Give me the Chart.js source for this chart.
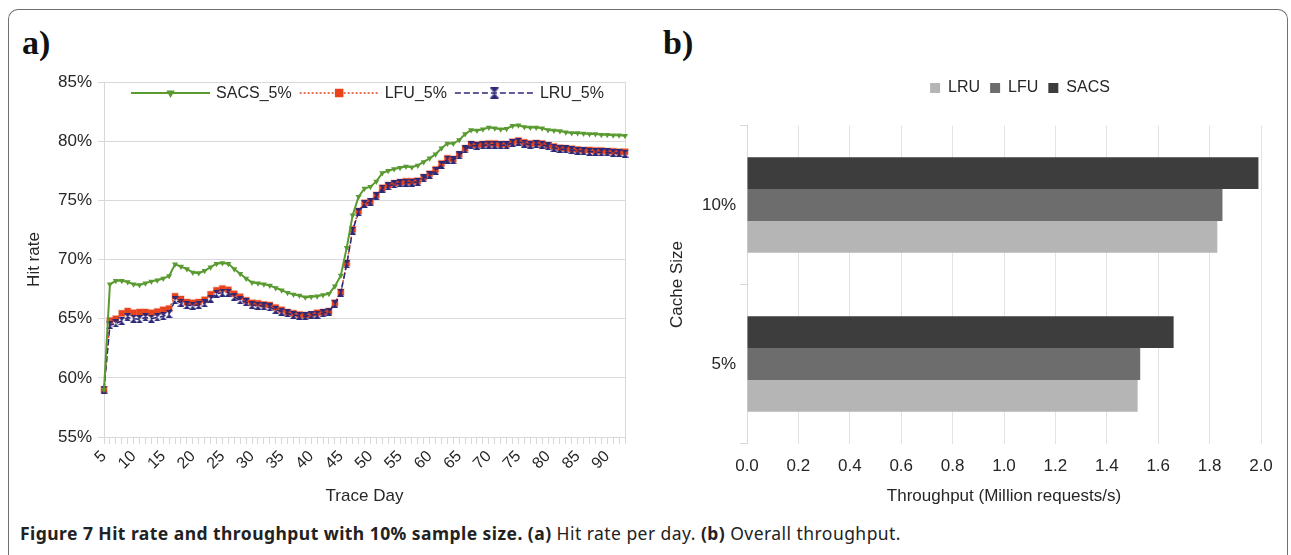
<!DOCTYPE html>
<html>
<head>
<meta charset="utf-8">
<title>Figure 7</title>
<script src="https://cdn.jsdelivr.net/npm/chart.js@4.4.1/dist/chart.umd.min.js"></script>
<style>
  html, body { margin: 0; padding: 0; background: #fff; }
  body { width: 1291px; height: 555px; position: relative; overflow: hidden; font-family: 'Liberation Sans', Arial, sans-serif; }
  .frame { position: absolute; left: 8px; top: 9px; width: 1278px; height: 600px; border: 1.5px solid #707070; border-bottom: none; border-radius: 10px 10px 0 0; }
  .panel { position: absolute; top: 24px; font-family: 'Liberation Serif', 'Times New Roman', serif; font-weight: bold; font-size: 34px; color: #111; }
  #wrapA { position: absolute; left: 0; top: 0; width: 650px; height: 511px; }
  #wrapB { position: absolute; left: 650px; top: 0; width: 641px; height: 511px; }
  .caption { position: absolute; left: 20px; top: 521px; font-family: 'Noto Sans', 'Open Sans', sans-serif; font-size: 17.5px; letter-spacing: 0.45px; color: #222; white-space: nowrap; }
</style>
</head>
<body>
<div class="frame"></div>
<div class="panel" style="left:22px">a)</div>
<div class="panel" style="left:663px">b)</div>
<div id="wrapA"><canvas id="hitRate" width="650" height="511"></canvas></div>
<div id="wrapB"><canvas id="throughput" width="641" height="511"></canvas></div>
<div class="caption"><b>Figure 7 Hit rate and throughput with 10% sample size. (a)</b> Hit rate per day. <b>(b)</b> Overall throughput.</div>

<script>
// panel a) hit rate per trace day
const days = [5, 6, 7, 8, 9, 10, 11, 12, 13, 14, 15, 16, 17, 18, 19, 20, 21, 22, 23, 24,
  25, 26, 27, 28, 29, 30, 31, 32, 33, 34, 35, 36, 37, 38, 39, 40, 41, 42, 43, 44,
  45, 46, 47, 48, 49, 50, 51, 52, 53, 54, 55, 56, 57, 58, 59, 60, 61, 62, 63, 64,
  65, 66, 67, 68, 69, 70, 71, 72, 73, 74, 75, 76, 77, 78, 79, 80, 81, 82, 83, 84,
  85, 86, 87, 88, 89, 90, 91, 92, 93];
const dayTickLabels = [5, 10, 15, 20, 25, 30, 35, 40, 45, 50, 55, 60, 65, 70, 75, 80, 85, 90];

const sacsHitRate = [59.0, 67.9, 68.2, 68.2, 68.1, 67.9, 67.85, 68.0, 68.15, 68.25,
  68.4, 68.6, 69.6, 69.4, 69.2, 68.9, 68.85, 69.05, 69.35, 69.65,
  69.7, 69.65, 69.2, 68.8, 68.4, 68.05, 68.0, 67.9, 67.8, 67.6,
  67.4, 67.2, 67.05, 66.95, 66.8, 66.85, 66.9, 67.0, 67.1, 67.75,
  68.65, 71.0, 73.75, 75.3, 76.0, 76.15, 76.6, 77.3, 77.5, 77.65,
  77.75, 77.85, 77.8, 77.95, 78.25, 78.55, 78.9, 79.4, 79.8, 79.8,
  80.1, 80.6, 80.95, 80.9, 81.0, 81.15, 81.1, 81.0, 81.05, 81.3,
  81.35, 81.2, 81.15, 81.15, 81.1, 80.95, 80.9, 80.85, 80.75, 80.7,
  80.7, 80.65, 80.6, 80.6, 80.55, 80.55, 80.5, 80.5, 80.45];

const lfuHitRate = [59.0, 64.85, 65.0, 65.45, 65.65, 65.5, 65.55, 65.55, 65.5, 65.6,
  65.75, 65.85, 66.9, 66.65, 66.4, 66.35, 66.4, 66.6, 67.05, 67.4,
  67.55, 67.45, 67.1, 66.85, 66.55, 66.35, 66.3, 66.2, 66.15, 65.95,
  65.75, 65.55, 65.45, 65.35, 65.3, 65.35, 65.5, 65.55, 65.65, 66.35,
  67.25, 69.7, 72.55, 74.1, 74.8, 74.9, 75.45, 76.05, 76.3, 76.45,
  76.55, 76.6, 76.6, 76.65, 76.95, 77.25, 77.6, 78.1, 78.55, 78.5,
  78.9, 79.4, 79.75, 79.7, 79.75, 79.8, 79.8, 79.75, 79.75, 79.95,
  80.05, 79.9, 79.8, 79.85, 79.8, 79.65, 79.55, 79.45, 79.4, 79.35,
  79.3, 79.25, 79.25, 79.2, 79.2, 79.15, 79.15, 79.1, 79.1];

const lruHitRate = [59.0, 64.45, 64.6, 64.8, 65.1, 65.0, 64.95, 65.1, 65.0, 65.1,
  65.2, 65.4, 66.55, 66.35, 66.15, 66.1, 66.15, 66.3, 66.7, 67.1,
  67.2, 67.2, 66.85, 66.55, 66.4, 66.15, 66.1, 66.05, 65.95, 65.75,
  65.6, 65.45, 65.3, 65.25, 65.2, 65.3, 65.35, 65.45, 65.6, 66.25,
  67.2, 69.6, 72.45, 74.0, 74.7, 74.85, 75.35, 76.0, 76.2, 76.35,
  76.45, 76.5, 76.5, 76.55, 76.85, 77.15, 77.5, 78.0, 78.45, 78.4,
  78.8, 79.3, 79.65, 79.6, 79.65, 79.7, 79.7, 79.65, 79.65, 79.85,
  79.95, 79.8, 79.7, 79.75, 79.7, 79.55, 79.45, 79.35, 79.3, 79.25,
  79.2, 79.15, 79.1, 79.1, 79.05, 79.05, 79.0, 79.0, 78.95];

// panel b) overall throughput
const cacheSizes = ['10%', '5%'];
const sacsThroughput = [1.99, 1.66];
const lfuThroughput = [1.85, 1.53];
const lruThroughput = [1.83, 1.52];

const GREEN = '#5a9b31';
const RED = '#e8431d';
const NAVY = '#2c2877';
const GRID = '#d9d9d9';
const TEXT = '#262626';

Chart.defaults.font.family = "'Liberation Sans', Arial, sans-serif";
Chart.defaults.font.size = 17;
Chart.defaults.color = TEXT;

function makeHourglass(color, w, h) {
  const c = document.createElement('canvas');
  c.width = w;
  c.height = h;
  const g = c.getContext('2d');
  g.fillStyle = color;
  g.beginPath();
  g.moveTo(0, 0);
  g.lineTo(w, 0);
  g.lineTo(w / 2, h / 2);
  g.lineTo(w, h);
  g.lineTo(0, h);
  g.lineTo(w / 2, h / 2);
  g.closePath();
  g.fill();
  return c;
}

const hourglass = makeHourglass(NAVY, 7, 8);

function drawMarker(ctx, ds, x, y) {
  const style = ds.pointStyle;
  if (style instanceof HTMLCanvasElement) {
    const w = style.width * 1.4, h = style.height * 1.4;
    ctx.drawImage(style, x - w / 2, y - h / 2, w, h);
    return;
  }
  ctx.fillStyle = ds.pointBackgroundColor;
  Chart.helpers.drawPoint(ctx, {
    pointStyle: style,
    radius: ds.pointRadius * 1.4,
    rotation: ds.rotation || 0,
    borderWidth: 0
  }, x, y);
}

// legend drawn inside the plot, Excel style: line sample with marker
const lineLegend = {
  id: 'lineLegend',
  afterDraw(chart) {
    const { ctx, chartArea } = chart;
    const sample = 79, gap = 6, itemGap = 8;
    const items = chart.data.datasets;
    ctx.save();
    ctx.font = "16px 'Liberation Sans', Arial, sans-serif";
    const widths = items.map((ds) => ctx.measureText(ds.label).width);
    const total = widths.reduce((sum, w) => sum + sample + gap + w, 0) + itemGap * (items.length - 1);
    let x = (chartArea.left + chartArea.right) / 2 - total / 2 + 3;
    const y = chartArea.top + 11;
    items.forEach((ds, i) => {
      ctx.strokeStyle = ds.borderColor;
      ctx.lineWidth = ds.borderWidth;
      ctx.setLineDash(ds.borderDash || []);
      ctx.beginPath();
      ctx.moveTo(x, y);
      ctx.lineTo(x + sample, y);
      ctx.stroke();
      ctx.setLineDash([]);
      drawMarker(ctx, ds, x + sample / 2, y);
      ctx.fillStyle = TEXT;
      ctx.textBaseline = 'middle';
      ctx.fillText(ds.label, x + sample + gap, y + 1);
      x += sample + gap + widths[i] + itemGap;
    });
    ctx.restore();
  }
};

const plotFrame = {
  id: 'plotFrame',
  beforeDatasetsDraw(chart) {
    const { ctx, chartArea } = chart;
    ctx.save();
    ctx.strokeStyle = GRID;
    ctx.lineWidth = 1;
    ctx.beginPath();
    ctx.moveTo(Math.round(chartArea.right) + 0.5, chartArea.top);
    ctx.lineTo(Math.round(chartArea.right) + 0.5, chartArea.bottom);
    ctx.stroke();
    ctx.restore();
  }
};

new Chart(document.getElementById('hitRate'), {
  type: 'line',
  data: {
    labels: days,
    datasets: [
      {
        label: 'SACS_5%',
        data: sacsHitRate,
        order: 0,
        borderColor: GREEN,
        borderWidth: 2,
        pointStyle: 'triangle',
        rotation: 180,
        pointRadius: 3.5,
        pointBackgroundColor: GREEN,
        pointBorderWidth: 0
      },
      {
        label: 'LFU_5%',
        data: lfuHitRate,
        order: 2,
        borderColor: RED,
        borderWidth: 1.5,
        borderDash: [2, 2],
        pointStyle: 'rect',
        pointRadius: 4.3,
        pointBackgroundColor: RED,
        pointBorderColor: 'rgba(232, 67, 29, 0.25)',
        pointBorderWidth: 1.5
      },
      {
        label: 'LRU_5%',
        data: lruHitRate,
        order: 1,
        borderColor: NAVY,
        borderWidth: 1.5,
        borderDash: [6, 3],
        pointStyle: hourglass,
        pointRadius: 4,
        pointBackgroundColor: NAVY
      }
    ]
  },
  options: {
    responsive: false,
    animation: false,
    layout: { padding: { top: 82, left: 20, right: 25, bottom: 0 } },
    plugins: {
      legend: { display: false },
      tooltip: { enabled: false }
    },
    scales: {
      x: {
        grid: { drawOnChartArea: false, color: GRID, tickLength: 7 },
        border: { color: GRID },
        ticks: {
          autoSkip: false,
          minRotation: 45,
          maxRotation: 45,
          padding: 3,
          font: { size: 16 },
          callback: (value) => (dayTickLabels.includes(days[value]) ? String(days[value]) : '')
        },
        title: { display: true, text: 'Trace Day' },
        afterFit: (scale) => { scale.height = 74; }
      },
      y: {
        min: 55,
        max: 85,
        grid: { color: GRID, tickLength: 6 },
        border: { color: GRID },
        ticks: { stepSize: 5, padding: 6, callback: (value) => value + '%' },
        title: { display: true, text: 'Hit rate' },
        afterFit: (scale) => { scale.width = 84; }
      }
    }
  },
  plugins: [plotFrame, lineLegend]
});

// leave room between the bar legend and the plot, nudge it right like the original
const legendSpacing = {
  id: 'legendSpacing',
  beforeInit(chart) {
    const originalFit = chart.legend.fit;
    chart.legend.fit = function fit() {
      originalFit.bind(chart.legend)();
      this.height += 19.5;
    };
  },
  afterLayout(chart) {
    chart.legend.left += 16;
    chart.legend.right += 16;
  }
};

new Chart(document.getElementById('throughput'), {
  type: 'bar',
  data: {
    labels: cacheSizes,
    datasets: [
      { label: 'SACS', data: sacsThroughput, backgroundColor: '#3d3d3d' },
      { label: 'LFU', data: lfuThroughput, backgroundColor: '#6d6d6d' },
      { label: 'LRU', data: lruThroughput, backgroundColor: '#b5b5b5' }
    ]
  },
  options: {
    indexAxis: 'y',
    responsive: false,
    animation: false,
    datasets: { bar: { categoryPercentage: 0.6, barPercentage: 1.0 } },
    layout: { padding: { top: 70, left: 13, right: 30, bottom: 0 } },
    plugins: {
      legend: {
        position: 'top',
        fullSize: false,
        reverse: true,
        labels: { boxWidth: 10, boxHeight: 10, padding: 10, font: { size: 16 } }
      },
      tooltip: { enabled: false }
    },
    scales: {
      x: {
        min: 0,
        max: 2,
        grid: { color: '#e3e3e3', drawTicks: false },
        border: { display: false },
        ticks: { stepSize: 0.2, padding: 13, callback: (value) => value.toFixed(1) },
        title: { display: true, text: 'Throughput (Million requests/s)' },
        afterFit: (scale) => { scale.height = 67.5; }
      },
      y: {
        grid: { drawOnChartArea: false, color: GRID, tickLength: 7 },
        border: { color: GRID },
        ticks: { padding: 4 },
        title: { display: true, text: 'Cache Size' },
        afterFit: (scale) => { scale.width = 84; }
      }
    }
  },
  plugins: [legendSpacing]
});
</script>
</body>
</html>
